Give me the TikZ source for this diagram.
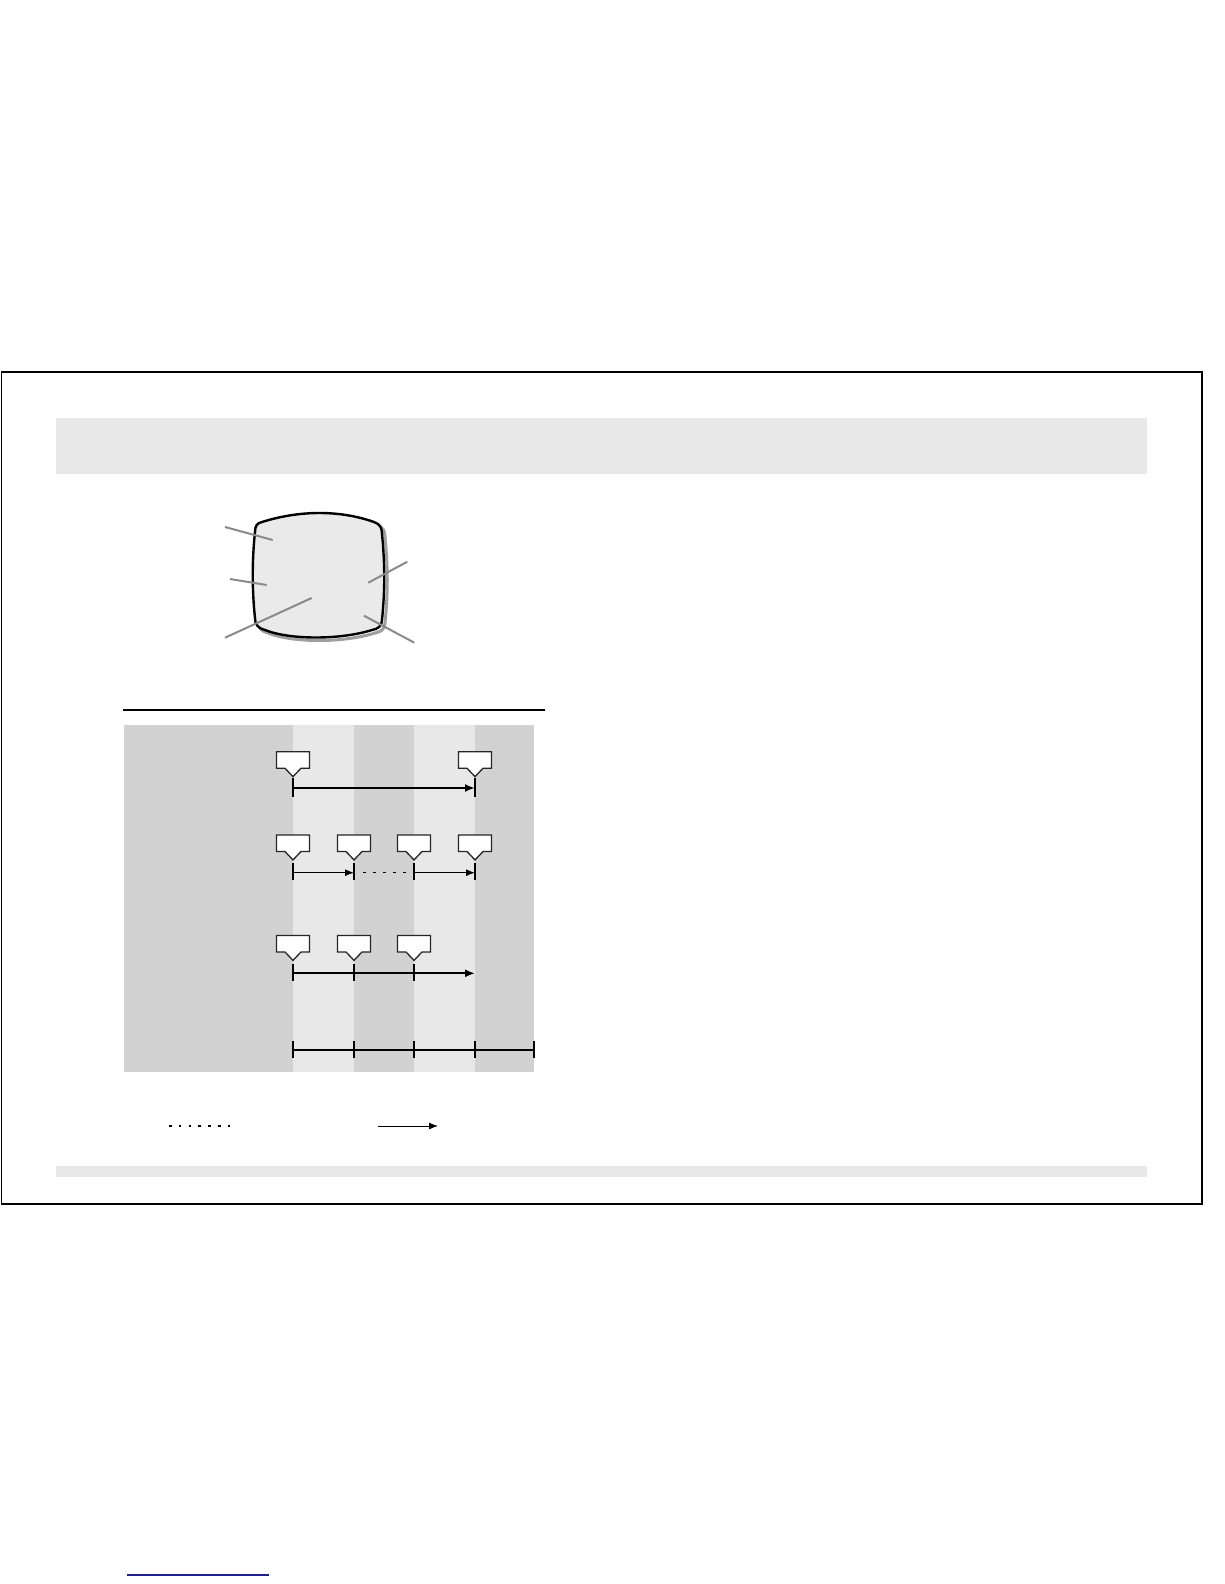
\documentclass[tikz,border=0pt]{standalone}
\usepackage{tikz}
\usetikzlibrary{arrows.meta}

\definecolor{bandDark}{RGB}{210,210,210}
\definecolor{bandLight}{RGB}{232,232,232}
\definecolor{barGray}{RGB}{232,232,232}
\definecolor{screenGray}{RGB}{234,234,234}
\definecolor{leaderGray}{RGB}{138,138,138}
\definecolor{linkBlue}{RGB}{30,30,140}

\tikzset{
	flagbody/.style={rectangle, minimum width=33pt, minimum height=16.5pt, inner sep=0pt, outer sep=0pt},
	flagline/.style={draw=black!85, fill=white, line width=1.3pt, line join=miter},
	tick/.style={line width=2.9pt},
	thintick/.style={line width=1.7pt},
	span/.style={line width=2.2pt,-{Latex[length=10pt,width=8pt]}},
	hop/.style={line width=1pt,-{Latex[length=9pt,width=7pt]}},
	leader/.style={leaderGray, line width=2pt},
}

% callout flag: name, x, y of its body centre
\newcommand{\flagat}[3]{%
	\node[flagbody] (#1) at (#2,#3) {};
	\draw[flagline] (#1.north west) -- (#1.north east) -- (#1.south east)
		-- ([xshift=8pt]#1.south) -- ([yshift=-8.4pt]#1.south)
		-- ([xshift=-8pt]#1.south) -- (#1.south west) -- cycle;}

\newcommand{\screenpath}{(262,522) .. controls (300,510) and (340,510) .. (374,522)
	.. controls (380,524) and (382,528) .. (382,534)
	.. controls (385,565) and (385,590) .. (382,620)
	.. controls (382,626) and (378,629) .. (372,630)
	.. controls (340,640) and (290,640) .. (265,630)
	.. controls (258,628) and (255,625) .. (255,618)
	.. controls (252,590) and (252,560) .. (255,532)
	.. controls (255,526) and (257,523) .. (262,522) -- cycle}

\begin{document}
\begin{tikzpicture}[x=1pt,y=-1pt]

	\useasboundingbox (0,0) rectangle (1224,1584);

	% page frame and grey bars

	\draw[line width=1.3pt] (1.5,372) rectangle (1202,1204);
	\fill[barGray] (56,418) rectangle (1147,474);
	\fill[barGray] (56,1166) rectangle (1147,1177);

	% screen outline

	\draw[shift={(3,3)},color=gray!75,line width=3pt] \screenpath;
	\draw[fill=screenGray,line width=2.4pt] \screenpath;

	% leader lines

	\coordinate (la) at (225,527);   \coordinate (lA) at (272.7,540);
	\coordinate (lb) at (230,579);   \coordinate (lB) at (266.7,585);
	\coordinate (lc) at (225,637.7); \coordinate (lC) at (311.7,598);
	\coordinate (ld) at (407.3,561.7); \coordinate (lD) at (368.3,582.7);
	\coordinate (le) at (414.3,642.7); \coordinate (lE) at (364,615.7);
	\draw[leader] (la) -- (lA);
	\draw[leader] (lb) -- (lB);
	\draw[leader] (lc) -- (lC);
	\draw[leader] (ld) -- (lD);
	\draw[leader] (le) -- (lE);

	% rule and banded panel

	\coordinate (ruleL) at (123,710);
	\coordinate (ruleR) at (545,710);
	\draw[line width=2pt] (ruleL) -- (ruleR);
	\fill[bandDark] (124,725) rectangle (534,1072);
	\fill[bandLight] (293,725) rectangle (354,1072);
	\fill[bandLight] (414,725) rectangle (475,1072);

	% first row

	\coordinate (r1a) at (293,788);
	\coordinate (r1d) at (475,788);
	\draw[tick] (r1a) ++(0,-10) -- ++(0,19);
	\draw[tick] (r1d) ++(0,-10) -- ++(0,19);
	\draw[span] (r1a) -- (r1d);
	\flagat{f1a}{293}{760}
	\flagat{f1d}{475}{760}

	% second row

	\coordinate (r2a) at (293,872.7);
	\coordinate (r2b) at (354,872.7);
	\coordinate (r2c) at (414,872.7);
	\coordinate (r2d) at (475,872.7);
	\draw[tick] (r2a) ++(0,-10) -- ++(0,17.5);
	\draw[tick] (r2b) ++(0,-10) -- ++(0,17.5);
	\draw[tick] (r2c) ++(0,-10) -- ++(0,17.5);
	\draw[tick] (r2d) ++(0,-10) -- ++(0,17.5);
	\draw[hop] (r2a) -- (r2b);
	\draw[line width=0.9pt,dash pattern=on 3pt off 7pt] ([xshift=9pt]r2b) -- ([xshift=-6pt]r2c);
	\draw[hop] (r2c) -- (r2d);
	\flagat{f2a}{293}{843.3}
	\flagat{f2b}{354}{843.3}
	\flagat{f2c}{414}{843.3}
	\flagat{f2d}{475}{843.3}

	% third row

	\coordinate (r3a) at (293,973.3);
	\coordinate (r3b) at (354,973.3);
	\coordinate (r3c) at (414,973.3);
	\coordinate (r3d) at (475,973.3);
	\draw[tick] (r3a) ++(0,-9) -- ++(0,17);
	\draw[thintick] (r3b) ++(0,-9) -- ++(0,17);
	\draw[thintick] (r3c) ++(0,-9) -- ++(0,17);
	\draw[span] (r3a) -- (r3d);
	\flagat{f3a}{293}{943.7}
	\flagat{f3b}{354}{943.7}
	\flagat{f3c}{414}{943.7}

	% scale row

	\coordinate (r4a) at (293,1050);
	\coordinate (r4e) at (534,1050);
	\draw[line width=2.2pt] (r4a) -- (r4e);
	\draw[tick] (293,1041) -- (293,1058);
	\draw[tick] (354,1041) -- (354,1058);
	\draw[tick] (414,1041) -- (414,1058);
	\draw[tick] (475,1041) -- (475,1058);
	\draw[tick] (534,1041) -- (534,1058);

	% legend

	\coordinate (dotL) at (169,1126);
	\coordinate (dotR) at (231,1126);
	\coordinate (arrL) at (378,1126);
	\coordinate (arrR) at (438,1126);
	\draw[line width=2.6pt,dash pattern=on 2.6pt off 7.2pt] (dotL) -- (dotR);
	\draw[hop] (arrL) -- (arrR);

	% link underline

	\draw[linkBlue,line width=1.5pt] (127,1575) -- (269,1575);

\end{tikzpicture}
\end{document}
